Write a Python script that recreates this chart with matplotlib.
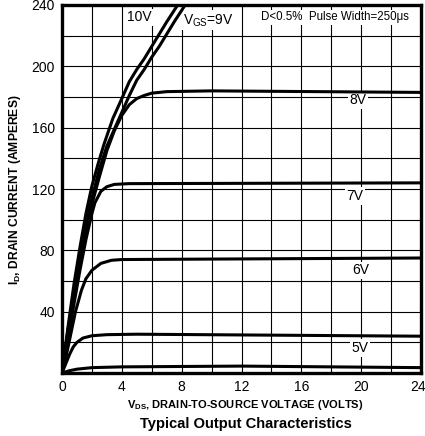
import numpy as np
import matplotlib
matplotlib.use("Agg")
import matplotlib.pyplot as plt
import matplotlib.transforms as mtransforms

plt.rcParams['font.family'] = ['Liberation Sans Narrow', 'Liberation Sans', 'DejaVu Sans']
plt.rcParams['mathtext.fontset'] = 'custom'
plt.rcParams['mathtext.rm'] = 'Liberation Sans:bold'
plt.rcParams['mathtext.sf'] = 'Liberation Sans'

# drain-source voltage (V) vs drain current (A), one list per Vgs
v10 = [0, 0.4, 0.8, 1.2, 1.6, 2.0, 2.4, 2.8, 3.4, 4.0, 4.5, 5.0, 5.5, 6.0, 6.5, 7.0, 7.6, 7.8]
i10 = [0, 30, 58, 82, 104, 122, 136, 149, 166, 179, 190, 198, 205, 213, 221, 229, 238, 241]
v9 = [0, 0.4, 0.8, 1.2, 1.6, 2.0, 2.5, 3.0, 3.5, 4.0, 4.5, 5.0, 5.5, 6.0, 6.5, 7.0, 7.5, 8.3]
i9 = [0, 28, 54, 77, 97, 114, 133, 148, 159, 170, 181, 191, 198, 206, 213, 221, 229, 241]
v8 = [0, 0.4, 0.8, 1.2, 1.6, 2.0, 2.5, 3.0, 3.5, 4.0, 4.5, 5.0, 5.5, 6.0, 7.0, 10, 24]
i8 = [0, 27, 52, 74, 93, 110, 128, 145, 158, 168, 175, 179, 181, 182.5, 183.5, 184, 183]
v7 = [0, 0.4, 0.8, 1.2, 1.6, 2.0, 2.2, 2.6, 3.0, 3.5, 4.5, 24]
i7 = [0, 22, 45, 67, 87, 104, 111, 118.5, 121.5, 123, 123.5, 124]
v6 = [0, 0.3, 0.6, 0.9, 1.3, 1.6, 2.0, 2.6, 3.3, 4.0, 24]
i6 = [0, 12, 26, 40, 54, 61.5, 67, 71.5, 73.5, 74, 75]
v5 = [0, 0.25, 0.5, 0.75, 1.0, 1.4, 2.0, 3.0, 5.0, 24]
i5 = [0, 6, 12, 17, 20, 22.8, 24.3, 25, 25.3, 24]
v4 = [0, 0.5, 1.0, 2.0, 4.0, 12, 24]
i4 = [0, 1.5, 2.5, 3.5, 4, 4.5, 3.5]

curve_labels = ['8V', '7V', '6V', '5V']
label_v = [19.8, 19.6, 20.0, 19.9]
label_i = [178, 115.5, 67, 16.3]

x_ticks = [0, 4, 8, 12, 16, 20, 24]
y_ticks = [40, 80, 120, 160, 200, 240]

fig = plt.figure(figsize=(4.25, 4.36), dpi=100)
ax = fig.add_axes([62/425, 1 - 373/436, 359/425, 368/436])

for v, i in [(v10, i10), (v9, i9), (v8, i8), (v7, i7), (v6, i6), (v5, i5), (v4, i4)]:
    ax.plot(v, i, c='k', lw=2.2, zorder=3, solid_capstyle='butt', solid_joinstyle='round')

ax.set_xlim(0, 24)
ax.set_ylim(0, 240)
ax.set_xticks(x_ticks)
ax.set_yticks(y_ticks)
ax.set_xticks(np.arange(0, 25, 2), minor=True)
ax.set_yticks(np.arange(0, 241, 20), minor=True)
ax.grid(True, which='both', color='k', lw=0.8)
ax.set_axisbelow(True)
ax.tick_params(which='both', length=0, labelsize=10, pad=5)
for s in ax.spines.values():
    s.set_linewidth(2.4)

# last x label sits at the right edge, nudge it in a bit
last = ax.get_xticklabels()[-1]
last.set_transform(last.get_transform() + mtransforms.ScaledTranslation(-3/100, 0, fig.dpi_scale_trans))

box = dict(fc='white', ec='none', pad=1.2)
for lab, x, y in zip(curve_labels, label_v, label_i):
    ax.text(x, y, lab, ha='center', va='center', fontsize=10, bbox=box, zorder=2.5)
ax.text(5.2, 232, '10V', ha='center', va='center', fontsize=10, bbox=box, zorder=2.5)
ax.text(8.1, 230, r'V$_{\mathsf{GS}}$=9V', ha='left', va='center', fontsize=10, bbox=box, zorder=2.5)
ax.text(13.3, 232, 'D<0.5%  Pulse Width=250\u03bcs', ha='left', va='center',
        fontsize=8.3, bbox=box, zorder=2.5)

fig.text(245/425, 1 - 405/436, r'V$_{\mathrm{DS}}$, DRAIN-TO-SOURCE VOLTAGE (VOLTS)',
         ha='center', va='center', fontsize=8, fontweight='bold')
fig.text(246/425, 1 - 424/436, 'Typical Output Characteristics',
         ha='center', va='center', fontsize=10.6, fontweight='bold', family='Liberation Sans')
fig.text(15/425, 1 - 190/436, r'I$_{\mathrm{D}}$, DRAIN CURRENT (AMPERES)',
         ha='center', va='center', rotation=90, fontsize=8.7, fontweight='bold')

fig.savefig('out.png', dpi=100)
